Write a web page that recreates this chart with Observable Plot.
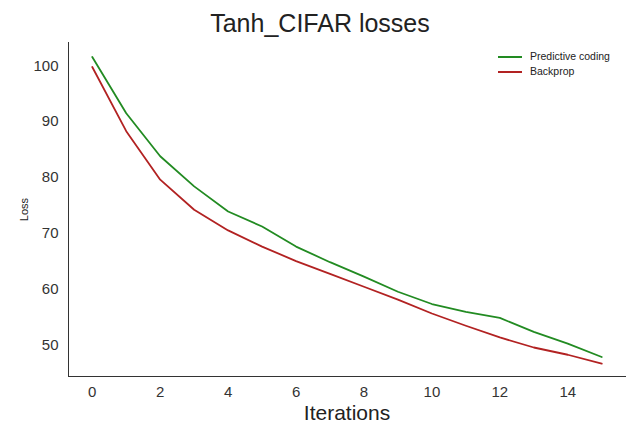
<!DOCTYPE html>
<html><head><meta charset="utf-8">
<script src="https://cdn.jsdelivr.net/npm/d3@7"></script>
<script src="https://cdn.jsdelivr.net/npm/@observablehq/plot@0.6"></script>
<style>
body{margin:0;background:#fff;font-family:"Liberation Sans",Arial,sans-serif}
#wrap{position:relative;width:640px;height:440px}
#title{position:absolute;top:9px;left:0;width:640px;text-align:center;font-size:25px;color:#222}
#legend{position:absolute;top:49px;left:498px;font-size:10.5px;color:#222;line-height:15px}
#legend span{display:inline-block;width:24px;height:2px;vertical-align:middle;margin-right:8px}
</style></head>
<body><div id="wrap"><div id="title">Tanh_CIFAR losses</div>
<div id="legend"><div><span style="background:#228b22"></span>Predictive coding</div><div><span style="background:#b22222"></span>Backprop</div></div>
<div id="chart"></div></div>
<script>
const iterations = d3.range(16);
const predictiveCoding = [101.6, 91.5, 83.8, 78.4, 73.9, 71.2, 67.6, 64.8, 62.2, 59.5, 57.3, 55.9, 54.8, 52.3, 50.2, 47.8];
const backprop = [99.8, 88.3, 79.6, 74.2, 70.5, 67.6, 65.0, 62.7, 60.4, 58.1, 55.6, 53.4, 51.3, 49.5, 48.2, 46.6];

const rows = [];
iterations.forEach((it, i) => {
  rows.push({it, loss: predictiveCoding[i], series: "Predictive coding"});
  rows.push({it, loss: backprop[i], series: "Backprop"});
});

const chart = Plot.plot({
  width: 640, height: 440,
  marginTop: 42, marginBottom: 64, marginLeft: 68, marginRight: 15,
  style: {fontFamily: "Liberation Sans, Arial, sans-serif", color: "#333", background: "transparent"},
  x: {domain: [-0.7, 15.7]},
  y: {domain: [44.3, 104.2]},
  color: {domain: ["Predictive coding", "Backprop"], range: ["#228b22", "#b22222"]},
  marks: [
    Plot.axisX({ticks: d3.range(0, 16, 2), tickSize: 0, tickPadding: 10, fontSize: 15, label: null}),
    Plot.axisY({ticks: [50, 60, 70, 80, 90, 100], tickSize: 0, tickPadding: 10, fontSize: 15, label: null}),
    Plot.axisX({ticks: [], label: "Iterations", labelAnchor: "center", labelArrow: "none", labelOffset: 43, fontSize: 21, fill: "#222"}),
    Plot.axisY({ticks: [], label: "Loss", labelAnchor: "center", labelArrow: "none", labelOffset: 48, fontSize: 11, fill: "#222"}),
    Plot.frame({anchor: "left", stroke: "#333"}),
    Plot.frame({anchor: "bottom", stroke: "#333"}),
    Plot.line(rows, {x: "it", y: "loss", stroke: "series", strokeWidth: 1.8})
  ]
});
d3.select('#chart').append(() => chart);
</script></body></html>
